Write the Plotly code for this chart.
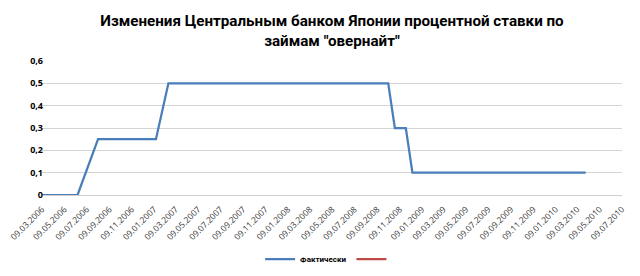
import plotly.graph_objects as go
import pandas as pd

# Overnight call rate target (%), by date of change
dates = ["2006-03-09", "2006-06-14", "2006-08-09", "2007-01-14", "2007-02-17",
         "2008-10-09", "2008-10-27", "2008-11-26", "2008-12-14", "2010-04-01"]
rates = [0, 0, 0.25, 0.25, 0.5, 0.5, 0.3, 0.3, 0.1, 0.1]

# X-axis labels every two months
tick_labels = ["09.03.2006", "09.05.2006", "09.07.2006", "09.09.2006", "09.11.2006",
               "09.01.2007", "09.03.2007", "09.05.2007", "09.07.2007", "09.09.2007",
               "09.11.2007", "09.01.2008", "09.03.2008", "09.05.2008", "09.07.2008",
               "09.09.2008", "09.11.2008", "09.01.2009", "09.03.2009", "09.05.2009",
               "09.07.2009", "09.09.2009", "09.11.2009", "09.01.2010", "09.03.2010",
               "09.05.2010", "09.07.2010"]
tick_dates = [pd.to_datetime(t, format="%d.%m.%Y").strftime("%Y-%m-%d") for t in tick_labels]

y_ticks = [0, 0.1, 0.2, 0.3, 0.4, 0.5, 0.6]
y_labels = ["0", "0,1", "0,2", "0,3", "0,4", "0,5", "0,6"]

fig = go.Figure()
fig.add_trace(go.Scatter(
    x=dates, y=rates, mode="lines", name="Фактически",
    line=dict(color="#4a7ebb", width=2.25),
))
fig.add_trace(go.Scatter(
    x=[None], y=[None], mode="lines", name=" ",
    line=dict(color="#be4b48", width=2.25),
))

fig.update_layout(
    width=640, height=276,
    margin=dict(l=42, r=18, t=61, b=81, autoexpand=False),
    paper_bgcolor="white", plot_bgcolor="white",
    font=dict(family="Open Sans, Liberation Sans, sans-serif", color="#000"),
    title=dict(
        text="Изменения Центральным банком Японии процентной ставки по<br>займам \"овернайт\"",
        x=0.5, xanchor="center", xref="paper",
        y=1 - 26 / 276, yanchor="middle", yref="container",
        font=dict(family="Roboto, sans-serif", size=15.2, color="#000", weight="bold"),
    ),
    showlegend=True,
    legend=dict(
        orientation="h", x=0.515, xanchor="center", xref="container",
        y=1 - 259 / 276, yanchor="middle", yref="container",
        font=dict(family="Roboto, sans-serif", size=8, weight="bold", color="#000"),
        itemwidth=30, tracegroupgap=0,
    ),
    xaxis=dict(
        type="date",
        range=[tick_dates[0], tick_dates[-1]],
        tickvals=tick_dates, ticktext=tick_labels,
        tickangle=-45,
        tickfont=dict(size=8.5, color="#333"),
        showgrid=False, zeroline=False,
        showline=True, linecolor="#d0d0d0", linewidth=1,
        ticks="", automargin=False, ticklabelstandoff=5,
    ),
    yaxis=dict(
        range=[0, 0.6],
        tickvals=y_ticks, ticktext=y_labels,
        tickfont=dict(size=9, color="#000", weight="bold"),
        showgrid=True, gridcolor="#d4d4d4", gridwidth=1,
        zeroline=False, showline=False, ticks="",
        ticklabelstandoff=-2, automargin=False,
    ),
)

fig.write_html("out.html")
